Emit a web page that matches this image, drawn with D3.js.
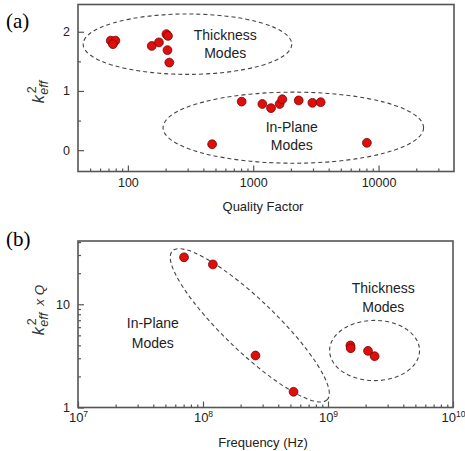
<!DOCTYPE html>
<html>
<head>
<meta charset="utf-8">
<script src="https://cdn.jsdelivr.net/npm/d3@7"></script>
<style>
body { margin: 0; background: #fff; }
svg { font-family: "Liberation Sans", Arial, sans-serif; }
</style>
</head>
<body>
<svg id="chart" width="465" height="451"></svg>
<script>
// panel (a): coupling vs quality factor
var thickQ = [73, 79.5, 76, 155, 177, 203, 209, 207, 214];
var thickK = [1.85, 1.85, 1.79, 1.76, 1.82, 1.96, 1.93, 1.69, 1.48];
var planeQ = [470, 809, 1183, 1387, 1625, 1707, 2307, 2967, 3452, 8072];
var planeK = [0.10, 0.82, 0.78, 0.71, 0.78, 0.86, 0.84, 0.80, 0.81, 0.125];
var qTicks = [100, 1000, 10000];
var kTicks = [0, 1, 2];

// panel (b): k2 x Q vs frequency
var planeF = [7.05e7, 1.2e8, 2.63e8, 5.3e8];
var planeKQ = [28.5, 24.3, 3.19, 1.42];
var thickF = [1.51e9, 1.52e9, 2.09e9, 2.36e9];
var thickKQ = [3.99, 3.75, 3.54, 3.14];
var fTicks = [1e7, 1e8, 1e9, 1e10];
var kqTicks = [1, 10];

// group outlines, in data units
var ellA = [
  {x: [44, 2030], y: [1.28, 2.30]},
  {x: [191, 22870], y: [-0.22, 0.98]}
];
var ellBThick = {x: [1.03e9, 5.4e9], y: [1.82, 6.98]};
var ellBPlane = {p1: [5.68e7, 32.8], p2: [9.87e8, 1.19]};

var notesA = [
  {t: "Thickness", x: 598, y: 1.86}, {t: "Modes", x: 598, y: 1.55},
  {t: "In-Plane", x: 2030, y: 0.30}, {t: "Modes", x: 2030, y: 0.0}
];
var notesB = [
  {t: "Thickness", x: 2.77e9, y: 12.8}, {t: "Modes", x: 2.77e9, y: 8.36},
  {t: "In-Plane", x: 3.97e7, y: 5.84}, {t: "Modes", x: 3.97e7, y: 3.81}
];

var svg = d3.select("#chart");
var frameColor = "#555";

function logMinor(lo, hi) {
  var out = [];
  for (var p = Math.floor(Math.log10(lo)); p <= Math.ceil(Math.log10(hi)); p++) {
    for (var m = 2; m <= 9; m++) {
      var v = m * Math.pow(10, p);
      if (v > lo && v < hi) out.push(v);
    }
  }
  return out;
}

function frame(g, x, y) {
  var r = x.range(), h = y.range();
  g.append("rect")
    .attr("x", r[0]).attr("y", h[1])
    .attr("width", r[1] - r[0]).attr("height", h[0] - h[1])
    .attr("fill", "none").attr("stroke", frameColor).attr("stroke-width", 1.6);
}

function styleAxis(sel) {
  sel.select(".domain").remove();
  sel.selectAll("line").attr("stroke", frameColor).attr("stroke-width", 1.2);
  sel.selectAll("text").attr("fill", "#222").attr("font-size", 12.5);
}

function dots(g, x, y, xs, ys) {
  g.selectAll(null).data(xs).enter().append("circle")
    .attr("cx", function(d) { return x(d); })
    .attr("cy", function(d, i) { return y(ys[i]); })
    .attr("r", 4.4)
    .attr("fill", "#e00d0d")
    .attr("stroke", "#7a0000")
    .attr("stroke-width", 0.8);
}

function ellipse(g, x, y, e) {
  var x0 = x(e.x[0]), x1 = x(e.x[1]), y0 = y(e.y[0]), y1 = y(e.y[1]);
  g.append("ellipse")
    .attr("cx", (x0 + x1) / 2).attr("cy", (y0 + y1) / 2)
    .attr("rx", Math.abs(x1 - x0) / 2).attr("ry", Math.abs(y1 - y0) / 2)
    .attr("fill", "none").attr("stroke", "#444")
    .attr("stroke-width", 1.1).attr("stroke-dasharray", "4,3");
}

function notes(g, x, y, list) {
  g.selectAll(null).data(list).enter().append("text")
    .attr("x", function(d) { return x(d.x); })
    .attr("y", function(d) { return y(d.y); })
    .attr("text-anchor", "middle")
    .attr("font-size", 14)
    .attr("fill", "#222")
    .text(function(d) { return d.t; });
}

function kLabel(cx, cy, tail) {
  var outer = svg.append("g").attr("transform", "translate(" + cx + "," + cy + ") rotate(-90)");
  var t = outer.append("g").attr("fill", "#333");
  var k = t.append("text").attr("font-size", 16).attr("font-style", "italic").text("k");
  var kw = k.node().getComputedTextLength();
  var sub = t.append("text").attr("x", kw + 0.5).attr("y", 4)
    .attr("font-size", 12.5).attr("font-style", "italic").text("eff");
  t.append("text").attr("x", kw + 2).attr("y", -8)
    .attr("font-size", 12.5).text("2");
  var w = kw + 0.5 + sub.node().getComputedTextLength();
  if (tail) {
    var tl = t.append("text").attr("x", w + 7).attr("font-size", 13.5)
      .attr("font-style", "italic").text("x Q");
    w += 7 + tl.node().getComputedTextLength();
  }
  t.attr("transform", "translate(" + (-w / 2) + ",0)");
}

// ---------- panel (a)
var xa = d3.scaleLog().domain([40, 40000]).range([78, 454]);
var ya = d3.scaleLinear().domain([-0.36, 2.46]).range([171.5, 4.5]);
var ga = svg.append("g");

ga.append("g").attr("transform", "translate(0," + ya.range()[0] + ")")
  .call(d3.axisBottom(xa).tickValues(logMinor(40, 40000)).tickSize(-3).tickFormat(""))
  .call(styleAxis);
ga.append("g").attr("transform", "translate(0," + ya.range()[0] + ")")
  .call(d3.axisBottom(xa).tickValues(qTicks).tickSize(-6).tickPadding(7).tickFormat(d3.format("d")))
  .call(styleAxis);
ga.append("g").attr("transform", "translate(" + xa.range()[0] + ",0)")
  .call(d3.axisLeft(ya).tickValues([0.5, 1.5]).tickSize(-3).tickFormat(""))
  .call(styleAxis);
ga.append("g").attr("transform", "translate(" + xa.range()[0] + ",0)")
  .call(d3.axisLeft(ya).tickValues(kTicks).tickSize(-6).tickPadding(8).tickFormat(d3.format("d")))
  .call(styleAxis);
frame(ga, xa, ya);

ellA.forEach(function(e) { ellipse(ga, xa, ya, e); });
dots(ga, xa, ya, thickQ, thickK);
dots(ga, xa, ya, planeQ, planeK);
notes(ga, xa, ya, notesA);

ga.append("text").attr("x", 263).attr("y", 211).attr("text-anchor", "middle")
  .attr("font-size", 13).attr("fill", "#222").text("Quality Factor");
kLabel(44, 92, false);
svg.append("text").attr("x", 6).attr("y", 28)
  .attr("font-family", "'Liberation Serif', 'Times New Roman', serif")
  .attr("font-size", 21).attr("fill", "#000").text("(a)");

// ---------- panel (b)
var xb = d3.scaleLog().domain([1e7, 1e10]).range([78, 453]);
var yb = d3.scaleLog().domain([1, 41]).range([407.5, 241]);
var gb = svg.append("g");

gb.append("g").attr("transform", "translate(0," + yb.range()[0] + ")")
  .call(d3.axisBottom(xb).tickValues(logMinor(1e7, 1e10)).tickSize(-3).tickFormat(""))
  .call(styleAxis);
var xAxB = gb.append("g").attr("transform", "translate(0," + yb.range()[0] + ")")
  .call(d3.axisBottom(xb).tickValues(fTicks).tickSize(-6).tickPadding(5).tickFormat(""))
  .call(styleAxis);
xAxB.selectAll(".tick text").each(function(d) {
  var s = d3.select(this).attr("font-size", 13);
  s.append("tspan").text("10");
  s.append("tspan").attr("font-size", 8.5).attr("dy", "-0.55em").text(Math.round(Math.log10(d)));
});
gb.append("g").attr("transform", "translate(" + xb.range()[0] + ",0)")
  .call(d3.axisLeft(yb).tickValues(logMinor(1, 41)).tickSize(-3).tickFormat(""))
  .call(styleAxis);
gb.append("g").attr("transform", "translate(" + xb.range()[0] + ",0)")
  .call(d3.axisLeft(yb).tickValues(kqTicks).tickSize(-6).tickPadding(8).tickFormat(d3.format("d")))
  .call(styleAxis);
frame(gb, xb, yb);

ellipse(gb, xb, yb, ellBThick);
// tilted outline for the in-plane group
(function() {
  var a = [xb(ellBPlane.p1[0]), yb(ellBPlane.p1[1])];
  var b = [xb(ellBPlane.p2[0]), yb(ellBPlane.p2[1])];
  var cx = (a[0] + b[0]) / 2, cy = (a[1] + b[1]) / 2;
  var rx = Math.hypot(b[0] - a[0], b[1] - a[1]) / 2;
  var ang = Math.atan2(b[1] - a[1], b[0] - a[0]) * 180 / Math.PI;
  gb.append("ellipse")
    .attr("transform", "translate(" + cx + "," + cy + ") rotate(" + ang + ")")
    .attr("rx", rx).attr("ry", 26)
    .attr("fill", "none").attr("stroke", "#444")
    .attr("stroke-width", 1.1).attr("stroke-dasharray", "4,3");
})();
dots(gb, xb, yb, planeF, planeKQ);
dots(gb, xb, yb, thickF, thickKQ);
notes(gb, xb, yb, notesB);

gb.append("text").attr("x", 263).attr("y", 447).attr("text-anchor", "middle")
  .attr("font-size", 13).attr("fill", "#222").text("Frequency (Hz)");
kLabel(44, 310, true);
svg.append("text").attr("x", 6).attr("y", 246)
  .attr("font-family", "'Liberation Serif', 'Times New Roman', serif")
  .attr("font-size", 21).attr("fill", "#000").text("(b)");
</script>
</body>
</html>
